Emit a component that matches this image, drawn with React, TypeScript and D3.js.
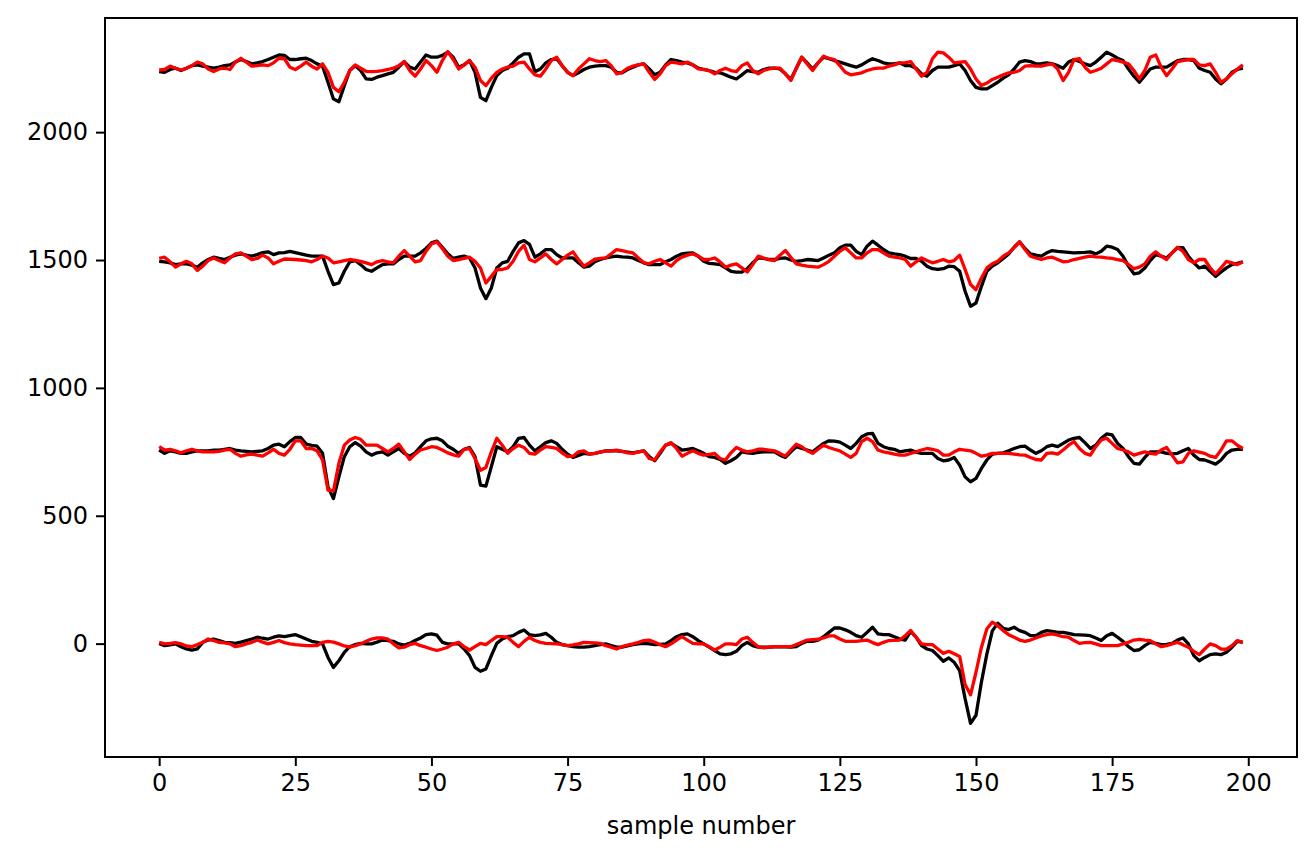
import { useRef, useEffect } from "react";
import * as d3 from "d3";

// four channels, each with a black (measured) and red trace, 200 samples
const blackTop = [
  2237, 2234, 2245, 2250, 2241, 2250, 2260, 2263, 2258, 2254,
  2250, 2254, 2260, 2263, 2274, 2284, 2276, 2267, 2271, 2276,
  2284, 2293, 2302, 2300, 2284, 2284, 2287, 2289, 2280, 2267,
  2258, 2195, 2130, 2119, 2182, 2241, 2260, 2241, 2208, 2206,
  2215, 2221, 2228, 2234, 2254, 2276, 2254, 2247, 2274, 2302,
  2293, 2293, 2300, 2313, 2293, 2254, 2263, 2280, 2234, 2136,
  2123, 2175, 2221, 2241, 2250, 2271, 2293, 2306, 2306, 2236,
  2247, 2271, 2284, 2287, 2260, 2234, 2221, 2232, 2245, 2254,
  2258, 2260, 2260, 2254, 2234, 2232, 2245, 2254, 2263, 2267,
  2247, 2224, 2234, 2263, 2284, 2280, 2274, 2271, 2263, 2250,
  2245, 2241, 2234, 2232, 2224, 2215, 2208, 2224, 2241, 2237,
  2234, 2245, 2250, 2250, 2247, 2228, 2206, 2250, 2293, 2271,
  2247, 2271, 2293, 2287, 2280, 2274, 2267, 2260, 2254, 2263,
  2276, 2287, 2280, 2271, 2267, 2267, 2271, 2260, 2260, 2250,
  2228, 2219, 2241, 2254, 2254, 2254, 2260, 2267, 2241, 2202,
  2175, 2169, 2169, 2182, 2195, 2211, 2224, 2247, 2274, 2280,
  2276, 2267, 2268, 2271, 2267, 2260, 2250, 2274, 2284, 2276,
  2267, 2260, 2274, 2293, 2313, 2302, 2289, 2280, 2247, 2219,
  2195, 2221, 2247, 2254, 2254, 2254, 2267, 2280, 2284, 2284,
  2280, 2250, 2241, 2234, 2208, 2189, 2208, 2234, 2245, 2250,
];

const redTop = [
  2243, 2245, 2258, 2250, 2243, 2250, 2260, 2274, 2267, 2247,
  2237, 2247, 2250, 2245, 2274, 2289, 2274, 2258, 2260, 2263,
  2260, 2271, 2289, 2287, 2254, 2245, 2258, 2274, 2258, 2247,
  2267, 2234, 2175, 2158, 2195, 2241, 2263, 2250, 2238, 2237,
  2238, 2241, 2245, 2250, 2260, 2276, 2241, 2219, 2247, 2280,
  2260, 2234, 2280, 2315, 2284, 2247, 2263, 2280, 2254, 2202,
  2182, 2211, 2234, 2247, 2254, 2258, 2271, 2274, 2247, 2224,
  2219, 2247, 2280, 2293, 2260, 2234, 2221, 2247, 2267, 2287,
  2280, 2276, 2280, 2260, 2228, 2234, 2250, 2258, 2263, 2267,
  2234, 2206, 2228, 2260, 2274, 2271, 2267, 2274, 2263, 2247,
  2245, 2241, 2228, 2241, 2250, 2241, 2237, 2260, 2271, 2241,
  2228, 2241, 2247, 2250, 2250, 2228, 2202, 2250, 2293, 2267,
  2241, 2271, 2297, 2289, 2284, 2260, 2234, 2224, 2228, 2232,
  2241, 2247, 2250, 2250, 2258, 2263, 2271, 2271, 2276, 2247,
  2219, 2234, 2287, 2313, 2310, 2293, 2271, 2274, 2276, 2247,
  2208, 2182, 2192, 2206, 2215, 2224, 2232, 2234, 2241, 2258,
  2260, 2258, 2258, 2263, 2267, 2247, 2202, 2234, 2284, 2287,
  2254, 2234, 2241, 2250, 2267, 2284, 2280, 2274, 2267, 2241,
  2208, 2241, 2293, 2302, 2254, 2221, 2247, 2276, 2280, 2284,
  2284, 2263, 2260, 2267, 2234, 2195, 2208, 2228, 2247, 2263,
];

const black1500 = [
  1495, 1493, 1489, 1482, 1485, 1485, 1480, 1472, 1489, 1502,
  1511, 1506, 1502, 1511, 1519, 1524, 1519, 1515, 1521, 1529,
  1532, 1521, 1528, 1529, 1534, 1529, 1524, 1519, 1515, 1515,
  1515, 1456, 1404, 1410, 1456, 1493, 1498, 1482, 1463, 1456,
  1469, 1482, 1485, 1485, 1502, 1515, 1515, 1515, 1528, 1545,
  1567, 1574, 1550, 1524, 1506, 1511, 1515, 1508, 1469, 1391,
  1349, 1391, 1469, 1489, 1495, 1534, 1567, 1576, 1561, 1511,
  1524, 1541, 1541, 1521, 1508, 1508, 1508, 1489, 1472, 1476,
  1493, 1502, 1508, 1512, 1515, 1512, 1511, 1508, 1498, 1489,
  1482, 1482, 1482, 1493, 1502, 1515, 1524, 1527, 1528, 1515,
  1495, 1487, 1485, 1482, 1469, 1456, 1453, 1453, 1466, 1489,
  1508, 1506, 1502, 1502, 1506, 1508, 1500, 1495, 1498, 1502,
  1500, 1498, 1508, 1519, 1528, 1548, 1558, 1558, 1534, 1521,
  1554, 1574, 1558, 1541, 1528, 1524, 1521, 1515, 1506, 1506,
  1495, 1476, 1466, 1463, 1466, 1476, 1474, 1456, 1378, 1319,
  1332, 1397, 1456, 1476, 1489, 1506, 1524, 1550, 1571, 1545,
  1524, 1519, 1515, 1528, 1537, 1534, 1532, 1530, 1528, 1529,
  1530, 1532, 1524, 1534, 1554, 1550, 1541, 1515, 1476, 1446,
  1450, 1469, 1498, 1521, 1515, 1508, 1528, 1548, 1548, 1515,
  1489, 1469, 1476, 1456, 1436, 1453, 1469, 1482, 1487, 1493,
];

const red1500 = [
  1506, 1511, 1493, 1472, 1485, 1495, 1485, 1459, 1476, 1498,
  1508, 1498, 1489, 1508, 1524, 1528, 1515, 1502, 1506, 1519,
  1508, 1485, 1495, 1504, 1503, 1502, 1500, 1498, 1493, 1502,
  1515, 1508, 1489, 1493, 1498, 1502, 1499, 1495, 1489, 1482,
  1493, 1498, 1493, 1489, 1515, 1537, 1515, 1493, 1498, 1534,
  1563, 1571, 1545, 1515, 1498, 1502, 1506, 1511, 1495, 1469,
  1410, 1436, 1463, 1463, 1469, 1495, 1534, 1558, 1502, 1493,
  1508, 1524, 1502, 1485, 1502, 1519, 1532, 1502, 1476, 1489,
  1503, 1506, 1508, 1524, 1541, 1537, 1532, 1528, 1508, 1489,
  1485, 1495, 1502, 1489, 1476, 1498, 1511, 1519, 1524, 1515,
  1502, 1502, 1508, 1493, 1472, 1480, 1485, 1469, 1453, 1482,
  1515, 1508, 1502, 1498, 1519, 1537, 1511, 1485, 1480, 1476,
  1474, 1472, 1482, 1495, 1515, 1534, 1548, 1528, 1508, 1508,
  1528, 1541, 1541, 1528, 1515, 1511, 1508, 1502, 1476, 1493,
  1508, 1498, 1489, 1495, 1502, 1493, 1498, 1519, 1463, 1404,
  1384, 1430, 1469, 1485, 1495, 1515, 1528, 1548, 1571, 1541,
  1515, 1508, 1502, 1508, 1511, 1502, 1493, 1495, 1502, 1506,
  1511, 1515, 1512, 1511, 1508, 1506, 1502, 1498, 1482, 1466,
  1472, 1485, 1515, 1532, 1515, 1502, 1528, 1550, 1534, 1502,
  1489, 1502, 1502, 1469, 1446, 1469, 1495, 1489, 1482, 1493,
];

const black750 = [
  757, 744, 754, 750, 744, 744, 750, 754, 754, 754,
  757, 757, 760, 763, 757, 754, 752, 750, 752, 754,
  763, 776, 780, 770, 790, 806, 806, 780, 775, 772,
  744, 613, 567, 652, 731, 770, 786, 772, 750, 737,
  746, 750, 737, 750, 763, 744, 733, 746, 770, 793,
  801, 803, 793, 772, 760, 744, 760, 767, 731, 620,
  616, 692, 770, 760, 750, 770, 803, 806, 776, 754,
  770, 786, 793, 783, 760, 741, 728, 736, 744, 741,
  744, 749, 754, 754, 754, 752, 749, 746, 750, 754,
  731, 715, 744, 776, 783, 770, 757, 760, 763, 754,
  744, 731, 728, 720, 705, 715, 728, 750, 746, 744,
  748, 750, 750, 750, 737, 728, 750, 770, 763, 757,
  750, 767, 783, 793, 792, 788, 776, 763, 783, 809,
  820, 822, 783, 770, 763, 760, 750, 754, 757, 749,
  744, 744, 744, 724, 715, 718, 728, 698, 652, 633,
  646, 685, 718, 741, 744, 746, 754, 763, 770, 772,
  757, 744, 754, 770, 776, 770, 783, 796, 803, 806,
  786, 763, 776, 803, 820, 816, 783, 763, 731, 705,
  702, 728, 750, 750, 750, 744, 742, 744, 754, 763,
  737, 720, 718, 710, 702, 718, 744, 757, 760, 760,
];

const red750 = [
  770, 757, 760, 754, 746, 754, 760, 754, 750, 750,
  750, 752, 757, 760, 744, 733, 738, 741, 737, 733,
  746, 760, 744, 737, 760, 793, 793, 763, 763, 754,
  718, 600, 597, 705, 776, 796, 806, 799, 776, 776,
  776, 763, 750, 763, 780, 750, 720, 741, 757, 763,
  770, 767, 757, 746, 738, 733, 760, 763, 724, 678,
  689, 750, 803, 776, 744, 763, 776, 767, 744, 741,
  757, 770, 767, 763, 746, 731, 733, 750, 754, 741,
  744, 750, 753, 754, 757, 752, 746, 744, 750, 754,
  724, 718, 750, 776, 786, 763, 733, 744, 754, 744,
  737, 740, 744, 724, 718, 746, 767, 757, 750, 754,
  760, 760, 757, 754, 744, 733, 757, 780, 770, 754,
  744, 760, 776, 767, 760, 754, 741, 728, 744, 790,
  803, 790, 757, 750, 746, 741, 737, 737, 744, 750,
  757, 763, 760, 754, 737, 737, 750, 760, 757, 754,
  744, 733, 737, 744, 744, 744, 744, 741, 738, 737,
  728, 720, 718, 744, 746, 741, 757, 776, 790, 763,
  744, 737, 770, 796, 803, 783, 763, 757, 750, 737,
  744, 750, 744, 741, 757, 767, 737, 707, 711, 744,
  754, 749, 744, 733, 728, 757, 793, 793, 776, 763,
];

const black0 = [
  1, -8, -5, -1, -12, -21, -25, -21, 5, 14,
  18, 12, 5, 4, 1, 6, 12, 18, 25, 21,
  18, 25, 30, 27, 31, 35, 27, 18, 9, 5,
  -1, -54, -93, -67, -34, -12, -4, 1, -1, -1,
  6, 14, 12, 9, -1, -6, 1, 12, 22, 35,
  38, 33, 5, -1, -1, -1, -21, -47, -93, -108,
  -99, -47, 1, 18, 27, 31, 44, 53, 35, 31,
  34, 40, 25, 5, -4, -8, -12, -14, -14, -12,
  -8, -4, -1, -8, -14, -14, -9, -4, -1, 1,
  -1, -4, -3, -1, 12, 27, 35, 38, 27, 12,
  -1, -14, -27, -40, -43, -40, -30, -8, 5, -8,
  -14, -14, -14, -13, -12, -13, -14, -12, 1, 9,
  9, 14, 27, 44, 61, 61, 54, 44, 31, 25,
  44, 64, 38, 35, 35, 27, 18, 14, 48, 25,
  -8, -21, -27, -47, -69, -56, -73, -106, -215, -312,
  -280, -150, -40, 50, 80, 60, 55, 64, 51, 44,
  31, 31, 44, 51, 48, 44, 44, 40, 35, 34,
  33, 31, 22, 12, 31, 40, 25, 9, -12, -27,
  -24, -8, 5, 1, -4, -3, 1, 14, 22, -1,
  -47, -67, -54, -43, -40, -43, -34, -14, 9, 5,
];

const red0 = [
  5, -1, 1, 4, -1, -9, -12, -4, 5, 18,
  12, 5, 3, -1, -12, -8, -1, 5, 14, 6,
  -1, 5, 12, 4, -1, -4, -6, -8, -8, -8,
  5, 9, 6, -1, -9, -14, -8, -1, 9, 18,
  22, 22, 18, -1, -17, -14, -4, 1, -8, -14,
  -21, -27, -21, -14, -1, 5, -12, -25, -12, 1,
  -4, 12, 27, 27, 25, 5, -12, 9, 25, 12,
  5, 1, 0, -1, -4, -8, -5, -1, 5, 4,
  3, 1, -8, -14, -21, -12, -6, -1, 5, 12,
  14, 5, -4, -12, -1, 14, 27, 14, 1, -1,
  -1, -12, -25, -14, -1, -1, -4, 18, 25, 5,
  -12, -17, -14, -12, -12, -12, -12, -4, 5, 14,
  16, 17, 22, 30, 30, 18, 9, 9, 9, 12,
  14, 4, -4, 5, 12, 13, 14, 31, 51, 25,
  -1, -4, -4, -21, -38, -30, -40, -50, -160, -200,
  -112, -14, 58, 84, 70, 51, 35, 25, 14, 9,
  14, 22, 30, 35, 38, 33, 27, 25, 12, 1,
  4, 5, -1, -8, -8, -8, -8, -1, 5, 14,
  17, 14, 12, -1, -12, -8, -1, 5, -4, -14,
  -30, -43, -21, -1, -8, -21, -22, -8, 12, 5,
];

const traces: { values: number[]; color: string }[] = [
  { values: black0, color: "black" },
  { values: red0, color: "red" },
  { values: black750, color: "black" },
  { values: red750, color: "red" },
  { values: black1500, color: "black" },
  { values: red1500, color: "red" },
  { values: blackTop, color: "black" },
  { values: redTop, color: "red" },
];

const xTicks = [0, 25, 50, 75, 100, 125, 150, 175, 200];
const yTicks = [0, 500, 1000, 1500, 2000];

const WIDTH = 1315;
const HEIGHT = 858;
const FONT = "'DejaVu Sans', sans-serif";
const FONT_SIZE = "24px";

export default function App() {
  const svgRef = useRef<SVGSVGElement>(null);

  useEffect(() => {
    if (!svgRef.current) return;
    const svg = d3.select(svgRef.current);
    svg.selectAll("*").remove();

    const margin = { top: 18, right: 18, bottom: 101, left: 105 };
    const w = WIDTH - margin.left - margin.right;
    const h = HEIGHT - margin.top - margin.bottom;

    // matplotlib-like 5% padding around the data
    const n = blackTop.length;
    const xPad = (n - 1) * 0.05;
    const all = traces.flatMap((t) => t.values);
    const lo = d3.min(all) ?? 0;
    const hi = d3.max(all) ?? 1;
    const yPad = (hi - lo) * 0.05;

    const x = d3.scaleLinear().domain([-xPad, n - 1 + xPad]).range([0, w]);
    const y = d3.scaleLinear().domain([lo - yPad, hi + yPad]).range([h, 0]);

    const g = svg
      .append("g")
      .attr("transform", `translate(${margin.left},${margin.top})`);

    const line = d3
      .line<number>()
      .x((_, i) => x(i))
      .y((d) => y(d));

    traces.forEach((t) => {
      g.append("path")
        .datum(t.values)
        .attr("fill", "none")
        .attr("stroke", t.color)
        .attr("stroke-width", 3.3)
        .attr("stroke-linejoin", "round")
        .attr("d", line);
    });

    const xAxis = g
      .append("g")
      .attr("transform", `translate(0,${h})`)
      .call(d3.axisBottom(x).tickValues(xTicks).tickFormat(d3.format("d")).tickSizeOuter(0).tickSize(9).tickPadding(8));
    const yAxis = g
      .append("g")
      .call(d3.axisLeft(y).tickValues(yTicks).tickFormat(d3.format("d")).tickSizeOuter(0).tickSize(9).tickPadding(8));

    [xAxis, yAxis].forEach((a) => {
      a.select(".domain").remove();
      a.selectAll(".tick line").attr("stroke", "black").attr("stroke-width", 2);
      a.selectAll("text")
        .attr("font-family", FONT)
        .attr("font-size", FONT_SIZE)
        .attr("fill", "black");
    });

    g.append("rect")
      .attr("width", w)
      .attr("height", h)
      .attr("fill", "none")
      .attr("stroke", "black")
      .attr("stroke-width", 2);

    g.append("text")
      .attr("x", w / 2)
      .attr("y", h + 77)
      .attr("text-anchor", "middle")
      .attr("font-family", FONT)
      .attr("font-size", FONT_SIZE)
      .attr("fill", "black")
      .text("sample number");
  }, []);

  return (
    <svg
      ref={svgRef}
      width={WIDTH}
      height={HEIGHT}
      style={{ position: "absolute", left: 0, top: 0, background: "white" }}
    />
  );
}
